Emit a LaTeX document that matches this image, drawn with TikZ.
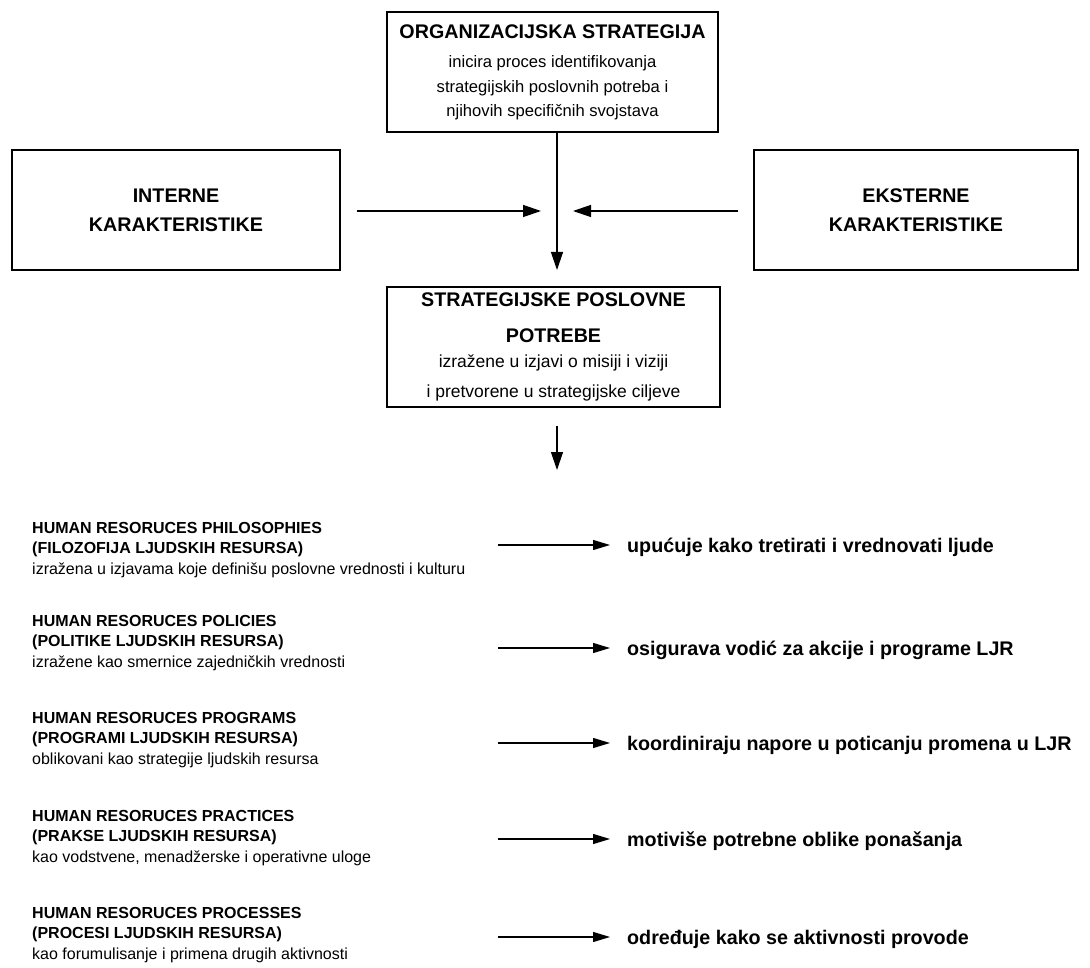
\documentclass[tikz,border=0pt]{standalone}
\usepackage{fontspec}
\setmainfont{Liberation Sans}
\usetikzlibrary{arrows.meta}
\begin{document}
\begin{tikzpicture}[x=1pt,y=-1pt,
  frame/.style={draw, line width=1.3pt, rectangle, inner sep=0pt},
  boxhead/.style={anchor=base, inner sep=0pt, font=\bfseries\fontsize{19.7}{24}\selectfont},
  topbody/.style={anchor=base, inner sep=0pt, font=\fontsize{16.6}{20}\selectfont},
  midbody/.style={anchor=base, inner sep=0pt, font=\fontsize{17.5}{21}\selectfont},
  listhead/.style={anchor=base west, inner sep=0pt, font=\bfseries\fontsize{16}{19}\selectfont},
  listbody/.style={anchor=base west, inner sep=0pt, font=\fontsize{16}{19}\selectfont},
  result/.style={anchor=base west, inner sep=0pt, font=\bfseries\fontsize{19.7}{24}\selectfont},
  arr/.style={line width=1.3pt, -{Triangle[length=18pt,width=12pt]}},
  listarr/.style={line width=1.2pt, -{Triangle[length=17pt,width=10pt]}}]
\useasboundingbox (0,0) rectangle (1090,968);

% organisational strategy
\node[frame, minimum width=331pt, minimum height=120pt] (org) at (552.5,72) {};
\node[boxhead] (orgT) at (552.5,39) {ORGANIZACIJSKA STRATEGIJA};
\node[topbody] (orgA) at (552.5,68) {inicira proces identifikovanja};
\node[topbody] (orgB) at (552.5,93) {strategijskih poslovnih potreba i};
\node[topbody] (orgC) at (552.5,117) {njihovih specifičnih svojstava};

% internal and external characteristics
\node[frame, minimum width=328pt, minimum height=120pt] (int) at (176,210) {};
\node[boxhead] (intA) at (176,203) {INTERNE};
\node[boxhead] (intB) at (176,232) {KARAKTERISTIKE};
\node[frame, minimum width=324pt, minimum height=120pt] (ext) at (916,210) {};
\node[boxhead] (extA) at (916,203) {EKSTERNE};
\node[boxhead] (extB) at (916,232) {KARAKTERISTIKE};

% strategic business needs
\node[frame, minimum width=333pt, minimum height=120pt] (sbn) at (553.5,347) {};
\node[boxhead] (sbnA) at (553.5,307) {STRATEGIJSKE POSLOVNE};
\node[boxhead] (sbnB) at (553.5,342) {POTREBE};
\node[midbody] (sbnC) at (553.5,367) {izražene u izjavi o misiji i viziji};
\node[midbody] (sbnD) at (553.5,397) {i pretvorene u strategijske ciljeve};

% main flow
\coordinate (c1) at (557,270);
\coordinate (lIn) at (541,211);
\coordinate (rIn) at (573,211);
\coordinate (c2) at (557,470);
\draw[arr] (org.south -| c1) -- (c1);
\draw[arr, shorten <=16pt] (int.east |- lIn) -- (lIn);
\draw[arr, shorten <=15pt] (ext.west |- rIn) -- (rIn);
\draw[arr, shorten <=18pt] (sbn.south -| c2) -- (c2);

% human resources elements and their roles
\foreach \k/\b/\ay/\ta/\tb/\tc/\res in {
  1/533/545/{HUMAN RESORUCES PHILOSOPHIES}/{(FILOZOFIJA LJUDSKIH RESURSA)}/{izražena u izjavama koje definišu poslovne vrednosti i kulturu}/{upućuje kako tretirati i vrednovati ljude},
  2/626/648/{HUMAN RESORUCES POLICIES}/{(POLITIKE LJUDSKIH RESURSA)}/{izražene kao smernice zajedničkih vrednosti}/{osigurava vodić za akcije i programe LJR},
  3/723/743/{HUMAN RESORUCES PROGRAMS}/{(PROGRAMI LJUDSKIH RESURSA)}/{oblikovani kao strategije ljudskih resursa}/{koordiniraju napore u poticanju promena u LJR},
  4/821/839/{HUMAN RESORUCES PRACTICES}/{(PRAKSE LJUDSKIH RESURSA)}/{kao vodstvene, menadžerske i operativne uloge}/{motiviše potrebne oblike ponašanja},
  5/918/937/{HUMAN RESORUCES PROCESSES}/{(PROCESI LJUDSKIH RESURSA)}/{kao forumulisanje i primena drugih aktivnosti}/{određuje kako se aktivnosti provode}}
{
  \node[listhead] (t\k) at (32,\b) {\ta};
  \node[listhead] (s\k) at (32,\b+20.5) {\tb};
  \node[listbody] (d\k) at (32,\b+41) {\tc};
  \coordinate (p\k) at (498,\ay);
  \node[result] (r\k) at (627,\ay+7) {\res};
  \draw[listarr, shorten >=17pt] (p\k) -- (p\k -| r\k.west);
}
\end{tikzpicture}
\end{document}
